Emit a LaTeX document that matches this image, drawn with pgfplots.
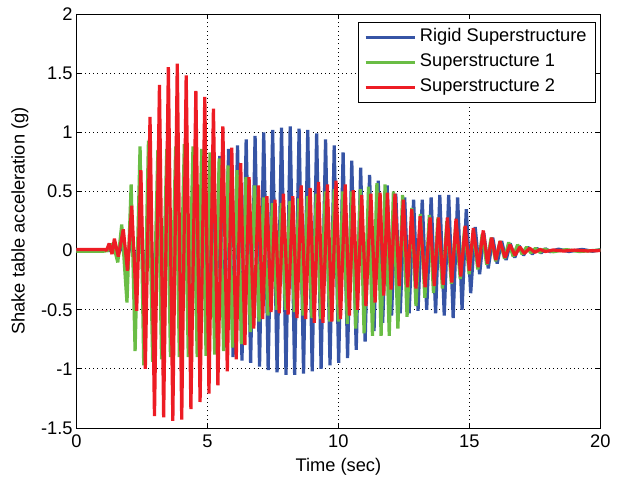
\documentclass[border=0pt]{standalone}
\usepackage{pgfplots}
\pgfplotsset{compat=1.18}
\usepackage{fontspec}
\setmainfont{Liberation Sans}
\definecolor{mblue}{RGB}{54,84,165}
\definecolor{mgreen}{RGB}{106,189,69}
\definecolor{mred}{RGB}{237,28,36}
\begin{document}
\begin{tikzpicture}
\useasboundingbox (-1.91cm,-1.25cm) rectangle (13.59cm,10.70cm);
\begin{axis}[
  at={(0,0)}, anchor=south west,
  scale only axis, width=13.1cm, height=10.35cm,
  xmin=0, xmax=20, ymin=-1.5, ymax=2,
  xtick={0,5,10,15,20}, xticklabels={0,5,10,15,20},
  ytick={-1.5,-1,-0.5,0,0.5,1,1.5,2},
  yticklabels={-1.5,-1,-0.5,0,0.5,1,1.5,2},
  tick align=inside, tick pos=both, major tick length=0.13cm,
  grid=major, grid style={black, dash pattern=on 0.6pt off 2.4pt, line width=0.6pt},
  axis line style={black, line width=0.7pt},
  tick style={black, line width=0.6pt},
  ticklabel style={font=\fontsize{13}{15}\selectfont},
  yticklabel style={xshift=0.03cm},
  xticklabel style={yshift=-0.05cm},
  xlabel={Time (sec)}, ylabel={Shake table acceleration (g)},
  label style={font=\fontsize{13}{15}\selectfont},
  xlabel style={at={(axis description cs:0.5,0)}, anchor=center, yshift=-0.98cm},
  ylabel style={at={(axis description cs:-0.108,0.5)}, anchor=center},
  legend style={at={(1,1)}, anchor=north east, xshift=-0.11cm, yshift=-0.2cm,
    draw=black, line width=0.6pt, fill=white,
    font=\fontsize{13}{15}\selectfont,
    inner xsep=0.145cm, inner ysep=2pt, row sep=1pt,
    nodes={inner sep=0.08cm, text height=9.5pt, text depth=2.8pt}},
  legend cell align=left,
  legend image code/.code={\draw[#1, line width=2.2pt] (0cm,0cm) -- (1.24cm,0cm);},
  every axis plot/.append style={line width=2.3pt, line join=bevel, no markers},
]
\addplot[mblue] coordinates {
(0,0.005) (1.1,0.005) (1.25,0.0)
(1.44,0.02) (1.61,-0.02)
(1.78,0.04) (1.95,-0.05)
(2.11,0.08) (2.28,-0.09)
(2.45,0.12) (2.62,-0.14)
(2.79,0.18) (2.96,-0.20)
(3.12,0.25) (3.29,-0.27)
(3.46,0.32) (3.63,-0.34)
(3.79,0.40) (3.96,-0.42)
(4.13,0.48) (4.30,-0.50)
(4.47,0.56) (4.64,-0.58)
(4.80,0.64) (4.97,-0.66)
(5.14,0.72) (5.31,-0.74)
(5.47,0.80) (5.64,-0.82)
(5.81,0.86) (5.98,-0.90)
(6.15,0.89) (6.32,-0.93)
(6.48,0.94) (6.65,-0.95)
(6.82,0.97) (6.99,-0.98)
(7.15,1.00) (7.32,-1.01)
(7.49,1.02) (7.66,-1.03)
(7.83,1.04) (8.00,-1.05)
(8.16,1.05) (8.33,-1.05)
(8.50,1.03) (8.67,-1.04)
(8.83,1.02) (9.00,-1.02)
(9.17,0.99) (9.34,-1.00)
(9.51,0.94) (9.68,-0.97)
(9.84,0.89) (10.01,-0.95)
(10.18,0.83) (10.35,-0.91)
(10.51,0.76) (10.68,-0.84)
(10.85,0.70) (11.02,-0.77)
(11.19,0.64) (11.36,-0.68)
(11.52,0.59) (11.69,-0.61)
(11.86,0.55) (12.03,-0.55)
(12.19,0.48) (12.36,-0.53)
(12.53,0.45) (12.70,-0.53)
(12.87,0.43) (13.04,-0.51)
(13.20,0.43) (13.37,-0.50)
(13.54,0.45) (13.71,-0.53)
(13.87,0.47) (14.04,-0.55)
(14.21,0.47) (14.38,-0.57)
(14.55,0.45) (14.72,-0.50)
(14.88,0.35) (15.05,-0.36)
(15.22,0.20) (15.39,-0.20)
(15.55,0.15) (15.72,-0.15)
(15.89,0.11) (16.06,-0.11)
(16.23,0.08) (16.40,-0.08)
(16.56,0.06) (16.73,-0.06)
(16.90,0.04) (17.07,-0.04)
(17.23,0.03) (17.40,-0.03)
(17.57,0.02) (17.74,-0.02)
(17.91,0.015) (18.08,-0.01)
(18.4,0.012) (18.8,-0.008) (19.3,0.01) (19.7,-0.006) (20,0.008)
};
\addlegendentry{Rigid Superstructure}
\addplot[mgreen] coordinates {
(0,-0.005) (1.05,-0.005) (1.20,0.00)
(1.40,0.06) (1.58,-0.10)
(1.73,0.22) (1.93,-0.44)
(2.09,0.56) (2.24,-0.85)
(2.43,0.88) (2.57,-0.97)
(2.75,0.93) (2.91,-0.94)
(3.11,0.85) (3.25,-0.92)
(3.45,0.86) (3.59,-0.90)
(3.79,0.88) (3.93,-0.90)
(4.12,0.90) (4.27,-0.90)
(4.45,0.88) (4.61,-0.90)
(4.78,0.86) (4.95,-0.89)
(5.10,0.83) (5.28,-0.88)
(5.45,0.78) (5.62,-0.85)
(5.79,0.72) (5.96,-0.82)
(6.13,0.68) (6.30,-0.79)
(6.47,0.62) (6.64,-0.69)
(6.80,0.55) (6.97,-0.60)
(7.14,0.45) (7.31,-0.55)
(7.48,0.40) (7.65,-0.50)
(7.82,0.40) (7.98,-0.50)
(8.15,0.42) (8.32,-0.52)
(8.49,0.44) (8.65,-0.55)
(8.82,0.46) (8.99,-0.57)
(9.16,0.48) (9.33,-0.58)
(9.50,0.50) (9.67,-0.60)
(9.84,0.52) (10.00,-0.60)
(10.17,0.50) (10.34,-0.62)
(10.51,0.50) (10.66,-0.66)
(10.84,0.52) (10.98,-0.70)
(11.15,0.54) (11.30,-0.72)
(11.47,0.57) (11.63,-0.72)
(11.78,0.56) (11.94,-0.72)
(12.10,0.50) (12.27,-0.66)
(12.45,0.47) (12.62,-0.56)
(12.80,0.36) (12.96,-0.47)
(13.13,0.31) (13.30,-0.40)
(13.47,0.30) (13.63,-0.36)
(13.80,0.28) (13.97,-0.32)
(14.14,0.25) (14.31,-0.28)
(14.48,0.22) (14.65,-0.24)
(14.82,0.20) (14.99,-0.20)
(15.15,0.17) (15.32,-0.16)
(15.49,0.14) (15.66,-0.12)
(15.83,0.11) (16.00,-0.09)
(16.17,0.08) (16.34,-0.07)
(16.50,0.07) (16.67,-0.05)
(16.84,0.05) (17.01,-0.03)
(17.18,0.03) (17.35,-0.02)
(17.52,0.02) (17.69,-0.015)
(17.86,0.012) (18.2,-0.01) (18.7,0.008) (19.2,-0.008) (20,0.005)
};
\addlegendentry{Superstructure 1}
\addplot[mred] coordinates {
(0,0.01) (1.10,0.01) (1.15,0.0)
(1.25,0.06) (1.36,-0.03)
(1.45,0.10) (1.60,-0.05)
(1.79,0.18) (1.95,-0.17)
(2.11,0.38) (2.30,-0.51)
(2.46,0.68) (2.63,-1.00)
(2.81,1.13) (2.98,-1.40)
(3.17,1.40) (3.33,-1.41)
(3.51,1.55) (3.68,-1.44)
(3.85,1.58) (4.02,-1.43)
(4.19,1.48) (4.37,-1.34)
(4.56,1.35) (4.72,-1.28)
(4.90,1.30) (5.06,-1.21)
(5.23,1.20) (5.40,-1.14)
(5.59,1.05) (5.76,-1.02)
(5.93,0.87) (6.10,-0.92)
(6.27,0.74) (6.43,-0.80)
(6.59,0.62) (6.77,-0.66)
(6.95,0.55) (7.11,-0.58)
(7.27,0.46) (7.43,-0.52)
(7.58,0.43) (7.74,-0.53)
(7.90,0.48) (8.08,-0.54)
(8.26,0.46) (8.42,-0.57)
(8.58,0.55) (8.75,-0.58)
(8.92,0.53) (9.08,-0.61)
(9.24,0.58) (9.41,-0.61)
(9.58,0.56) (9.75,-0.60)
(9.91,0.59) (10.08,-0.58)
(10.26,0.56) (10.42,-0.55)
(10.57,0.51) (10.73,-0.50)
(10.89,0.47) (11.05,-0.47)
(11.24,0.48) (11.40,-0.44)
(11.59,0.49) (11.73,-0.38)
(11.87,0.49) (12.01,-0.33)
(12.16,0.48) (12.32,-0.30)
(12.48,0.43) (12.64,-0.31)
(12.80,0.35) (12.96,-0.32)
(13.12,0.29) (13.31,-0.31)
(13.50,0.28) (13.66,-0.30)
(13.82,0.28) (14.00,-0.29)
(14.16,0.28) (14.33,-0.27)
(14.49,0.27) (14.67,-0.22)
(14.84,0.21) (15.00,-0.17)
(15.15,0.19) (15.34,-0.14)
(15.53,0.17) (15.69,-0.11)
(15.85,0.11) (16.01,-0.08)
(16.17,0.08) (16.36,-0.06)
(16.55,0.05) (16.74,-0.04)
(16.93,0.03) (17.10,-0.025)
(17.30,0.02) (17.50,-0.015)
(17.70,0.01) (17.90,-0.008)
(18.2,0.005) (18.6,-0.004) (19.0,0.004) (19.5,-0.003) (20,0.0)
};
\addlegendentry{Superstructure 2}
\end{axis}
\end{tikzpicture}
\end{document}
